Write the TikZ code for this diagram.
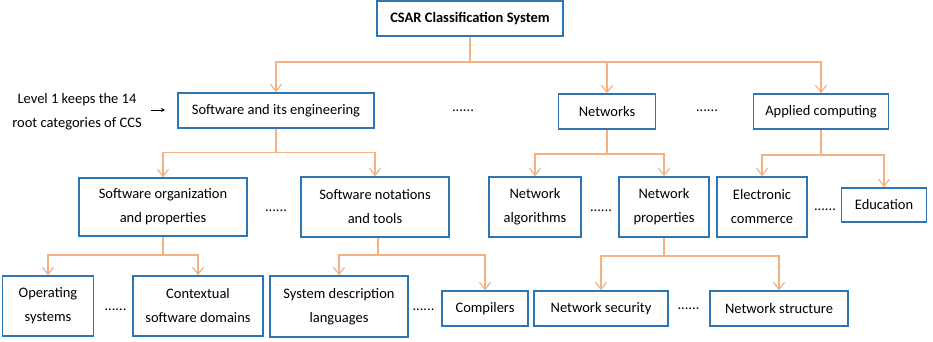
\documentclass[tikz,border=0pt]{standalone}
\usepackage{fontspec}
\setmainfont{Carlito}
\usetikzlibrary{arrows.meta}
\definecolor{boxblue}{RGB}{46,117,182}
\definecolor{linkorange}{RGB}{244,177,131}
\begin{document}
\begin{tikzpicture}[x=1pt,y=-1pt,
  every node/.style={font=\fontsize{14.5}{24}\selectfont, inner sep=0pt},
  catbox/.style={draw=boxblue, line width=1.5pt, align=center, fill=white},
  link/.style={draw=linkorange, line width=1.3pt},
  arr/.style={link, -{Straight Barb[length=7pt,width=11pt,line width=1.2pt]}},
  dots/.style={anchor=base}]
\useasboundingbox (0,0) rectangle (933,342);

% root
\node[catbox, minimum width=186pt, minimum height=35pt, font=\fontsize{14.5}{24}\selectfont\bfseries] (csar) at (470,18.5) {CSAR Classification System};

% level 1
\node[catbox, minimum width=196pt, minimum height=35pt] (swe) at (276,110.5) {Software and its engineering};
\node[catbox, minimum width=97pt, minimum height=35pt] (net) at (607,111.5) {Networks};
\node[catbox, minimum width=135pt, minimum height=35pt] (app) at (821,111.5) {Applied computing};

% level 2
\node[catbox, minimum width=168pt, minimum height=58pt] (sop) at (163,207) {Software organization\\and properties};
\node[catbox, minimum width=148pt, minimum height=60pt] (snt) at (375,207) {Software notations\\and tools};
\node[catbox, minimum width=92pt, minimum height=60pt] (nalg) at (535,207) {Network\\algorithms};
\node[catbox, minimum width=90pt, minimum height=60pt] (nprop) at (664,207) {Network\\properties};
\node[catbox, minimum width=90pt, minimum height=60pt] (ecom) at (762,207) {Electronic\\commerce};
\node[catbox, minimum width=85pt, minimum height=34pt] (edu) at (884,205) {Education};

% level 3
\node[catbox, minimum width=91pt, minimum height=60pt] (os) at (48,306) {Operating\\systems};
\node[catbox, minimum width=130pt, minimum height=60pt] (csd) at (198,306) {Contextual\\software domains};
\node[catbox, minimum width=138pt, minimum height=61pt] (sdl) at (339,306.5) {System description\\languages};
\node[catbox, minimum width=86pt, minimum height=35pt] (comp) at (485,308.5) {Compilers};
\node[catbox, minimum width=134pt, minimum height=35pt] (nsec) at (601,308.5) {Network security};
\node[catbox, minimum width=138pt, minimum height=35pt] (nstr) at (779,308.5) {Network structure};

% side note
\node[align=center] (lvl) at (77,111.5) {Level 1 keeps the 14\\root categories of CCS};
\coordinate (lvlA) at (151,110);
\coordinate (lvlB) at (165,110);
\draw[line width=0.9pt, -{Stealth[length=4pt,width=4pt]}] (lvlA) -- (lvlB);

% ellipses between siblings
\node[dots] (d1) at (463,112) {......};
\node[dots] (d2) at (707,112) {......};
\node[dots] (d3) at (276,211) {......};
\node[dots] (d4) at (601,211) {......};
\node[dots] (d5) at (825,210) {......};
\node[dots] (d6) at (115.5,310) {......};
\node[dots] (d7) at (423.5,310) {......};
\node[dots] (d8) at (688.5,309) {......};

% branch points
\coordinate (b0) at (470,62);
\coordinate (b1) at (276,152.5);
\coordinate (b2) at (607,154);
\coordinate (b3) at (821,155);
\coordinate (b4) at (163,255);
\coordinate (b5) at (378,255);
\coordinate (b6) at (664,256);

% connectors
\draw[link] (csar) -- (b0);
\draw[arr] (b0) -| (swe.north);
\draw[arr] (b0) -| (net.north);
\draw[arr] (b0) -| (app.north);

\draw[link] (swe) -- (b1);
\draw[arr] (b1) -| (sop.north);
\draw[arr] (b1) -| (snt.north);

\draw[link] (net) -- (b2);
\draw[arr] (b2) -| (nalg.north);
\draw[arr] (b2) -| (nprop.north);

\draw[link] (app) -- (b3);
\draw[arr] (b3) -| (ecom.north);
\draw[arr] (b3) -| (edu.north);

\draw[link] (sop) -- (b4);
\draw[arr] (b4) -| (os.north);
\draw[arr] (b4) -| (csd.north);

\draw[link] (snt.south -| b5) -- (b5);
\draw[arr] (b5) -| (sdl.north);
\draw[arr] (b5) -| (comp.north);

\draw[link] (nprop) -- (b6);
\draw[arr] (b6) -| (nsec.north);
\draw[arr] (b6) -| (nstr.north);
\end{tikzpicture}
\end{document}
